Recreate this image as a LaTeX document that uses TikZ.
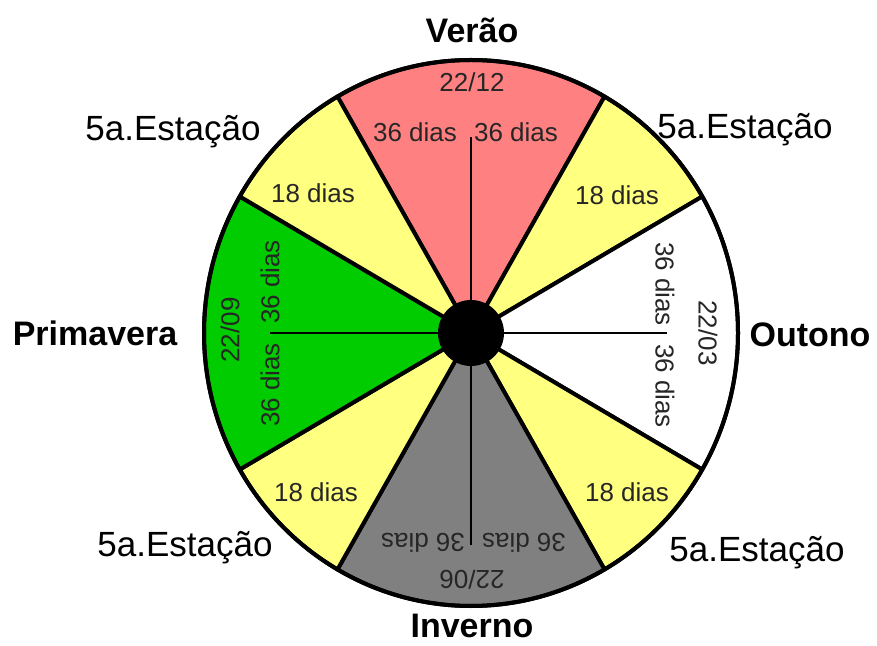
\documentclass[tikz,border=0pt]{standalone}
\usepackage{fontspec}
\setmainfont{Liberation Sans}
\usetikzlibrary{calc}
\definecolor{verao}{HTML}{FF8080}
\definecolor{quinta}{HTML}{FFFF80}
\definecolor{primavera}{HTML}{00CC00}
\definecolor{inverno}{HTML}{808080}
\tikzset{
  sector/.style={draw=black, line width=4pt, line join=round},
  dias/.style={font=\fontsize{26}{28}\selectfont, text=black!85, inner sep=0pt},
  quinta/.style={font=\fontsize{35}{38}\selectfont, inner sep=0pt},
  estacao/.style={font=\bfseries\fontsize{34}{36}\selectfont, inner sep=0pt},
}
\begin{document}
\begin{tikzpicture}[x=1pt, y=1pt]
    \useasboundingbox (0,0) rectangle (877,645);
    \coordinate (c) at (471,312);

    % Sectors of the year
    \foreach \a/\b/\col in {60/120/verao, 30/60/quinta, -30/30/white, -60/-30/quinta,
                            -120/-60/inverno, 210/240/quinta, 150/210/primavera, 120/150/quinta}
        \filldraw[sector, fill=\col] (c) -- ($(c)+(\a:267 and 273)$)
            arc[start angle=\a, end angle=\b, x radius=267, y radius=273] -- cycle;
    \draw[line width=4pt] (c) ellipse (267 and 273);

    % Hub and thin lines
    \node[circle, fill=black, minimum size=66pt, inner sep=0pt] (hub) at (c) {};
    \coordinate (vtop) at (471,508);
    \coordinate (vbot) at (471,100);
    \coordinate (hleft) at (270,312);
    \coordinate (hright) at (667,312);
    \draw[line width=1.5pt] (hub.center) -- (vtop);
    \draw[line width=1.5pt] (hub.center) -- (vbot);
    \draw[line width=1.5pt] (hub.center) -- (hleft);
    \draw[line width=1.5pt] (hub.center) -- (hright);

    % Verao
    \node[estacao] (verao) at (472,615) {Verão};
    \node[dias] (d1212) at (472,563) {22/12};
    \node[dias] (vl) at (415,513) {36 dias};
    \node[dias] (vr) at (516,513) {36 dias};

    % Primavera
    \node[estacao] (prim) at (95,312) {Primavera};
    \node[dias, rotate=90] (d2209) at (230,315) {22/09};
    \node[dias, rotate=90] (pu) at (270,363) {36 dias};
    \node[dias, rotate=90] (pl) at (270,260) {36 dias};

    % Outono
    \node[estacao] (outono) at (810,310) {Outono};
    \node[dias, rotate=-90] (d2203) at (708,312) {22/03};
    \node[dias, rotate=-90] (ou) at (665,361) {36 dias};
    \node[dias, rotate=-90] (ol) at (665,259) {36 dias};

    % Inverno
    \node[estacao] (inverno) at (472,19) {Inverno};
    \node[dias, rotate=180] (d2206) at (472,65) {22/06};
    \node[dias, rotate=180] (il) at (423,102) {36 dias};
    \node[dias, rotate=180] (ir) at (524,102) {36 dias};

    % 5a. Estacao
    \node[dias] (q1) at (313,452) {18 dias};
    \node[dias] (q2) at (617,450) {18 dias};
    \node[dias] (q3) at (316,153) {18 dias};
    \node[dias] (q4) at (627,153) {18 dias};
    \node[quinta] (e1) at (173,513) {5a.Estação};
    \node[quinta] (e2) at (745,515) {5a.Estação};
    \node[quinta] (e3) at (185,97) {5a.Estação};
    \node[quinta] (e4) at (757,92) {5a.Estação};
\end{tikzpicture}
\end{document}
